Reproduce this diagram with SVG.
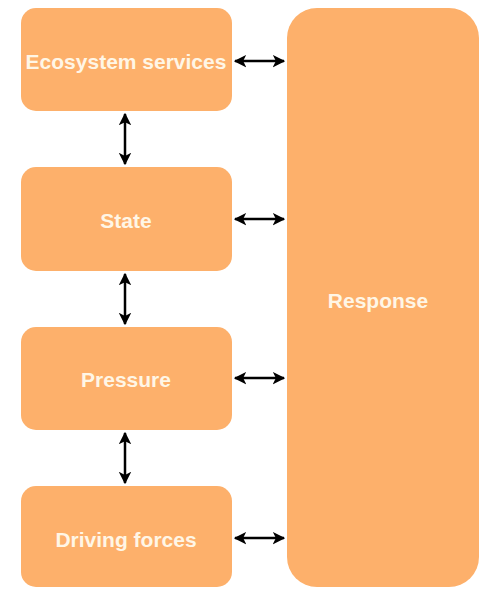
<svg xmlns="http://www.w3.org/2000/svg" width="480" height="589" viewBox="0 0 480 589">
  <style>
    .box { fill: #FDB06B; }
    .label { font-family: "Liberation Sans", Arial, sans-serif; font-weight: bold; font-size: 21px; fill: #FFF6E6; text-anchor: middle; dominant-baseline: central; }
    .link { stroke: #000; stroke-width: 2.5; fill: none; marker-start: url(#head); marker-end: url(#head); }
  </style>
  <defs>
    <marker id="head" viewBox="0 0 10 10" refX="9" refY="5" markerWidth="5" markerHeight="5.4" orient="auto-start-reverse" markerUnits="strokeWidth">
      <path d="M0,0 L10,5 L0,10 L2.5,5 Z" fill="#000"/>
    </marker>
  </defs>
  <rect width="480" height="589" fill="#fff"/>

  <g id="ecosystem-services">
    <rect class="box" x="21" y="8" width="211" height="103" rx="15"/>
    <text class="label" x="126" y="61">Ecosystem services</text>
  </g>
  <g id="state">
    <rect class="box" x="21" y="167" width="211" height="104" rx="15"/>
    <text class="label" x="126" y="220">State</text>
  </g>
  <g id="pressure">
    <rect class="box" x="21" y="327" width="211" height="103" rx="15"/>
    <text class="label" x="126" y="379">Pressure</text>
  </g>
  <g id="driving-forces">
    <rect class="box" x="21" y="486" width="211" height="101" rx="15"/>
    <text class="label" x="126" y="539">Driving forces</text>
  </g>
  <g id="response">
    <rect class="box" x="287" y="8" width="192" height="579" rx="30"/>
    <text class="label" x="378" y="300">Response</text>
  </g>

  <g id="connectors">
    <line class="link" x1="235" y1="61" x2="284" y2="61"/>
    <line class="link" x1="235" y1="219" x2="284" y2="219"/>
    <line class="link" x1="235" y1="378" x2="284" y2="378"/>
    <line class="link" x1="235" y1="538" x2="284" y2="538"/>
    <line class="link" x1="125" y1="114" x2="125" y2="164"/>
    <line class="link" x1="125" y1="274" x2="125" y2="324"/>
    <line class="link" x1="125" y1="433" x2="125" y2="483"/>
  </g>
</svg>
